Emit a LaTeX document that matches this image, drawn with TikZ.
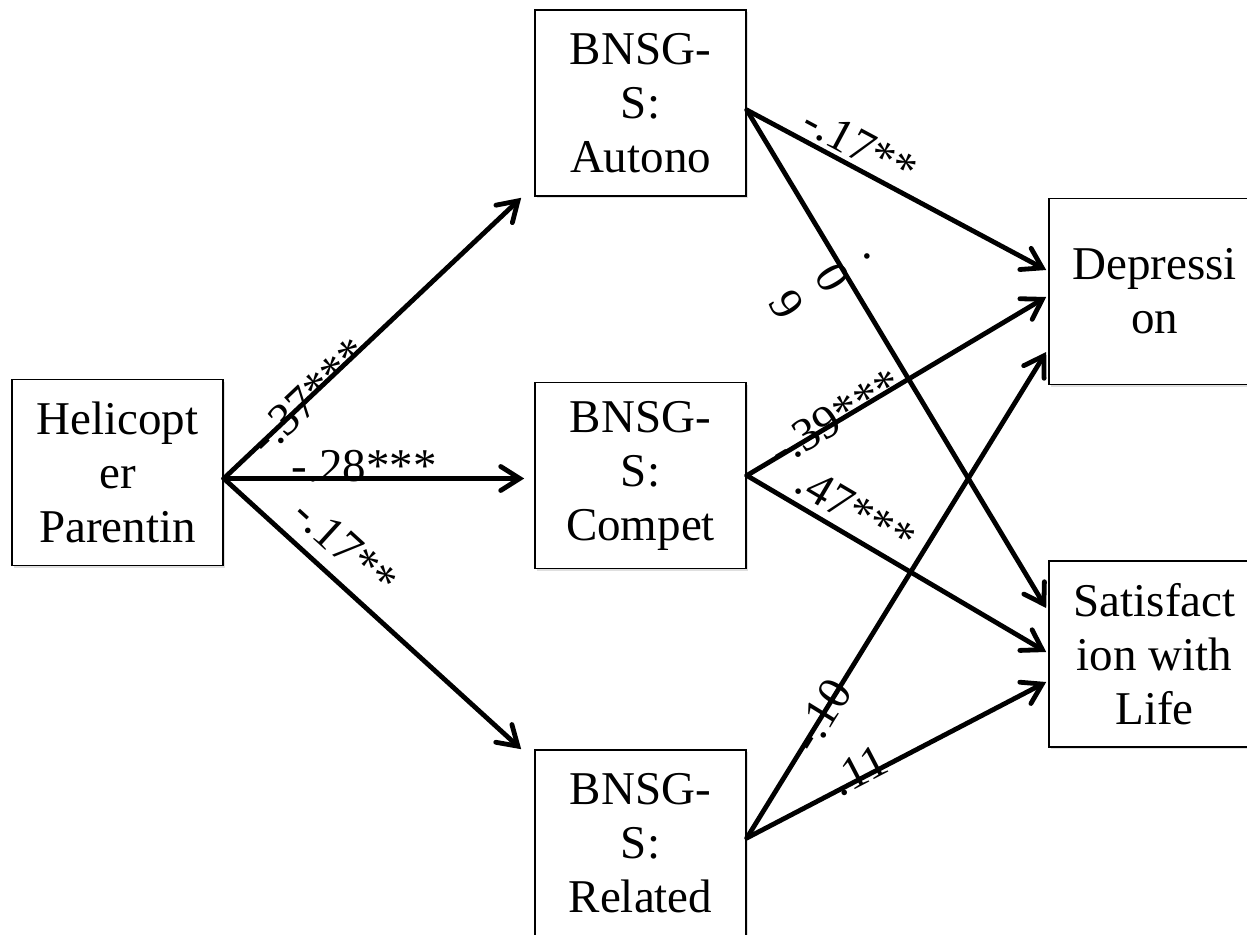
\documentclass[tikz,border=0pt]{standalone}
\usepackage{fontspec}
\setmainfont{Liberation Serif}
\usetikzlibrary{arrows.meta,calc,shadows}
\begin{document}
\begin{tikzpicture}[x=1pt,y=-1pt,
  box/.style={draw, line width=1.6pt, fill=white, minimum width=211pt, minimum height=186pt,
    inner sep=0pt, align=center, font=\fontsize{47}{54}\selectfont,
    drop shadow={shadow xshift=2pt, shadow yshift=-2pt, opacity=0.25}},
  arr/.style={line width=4.8pt, line cap=round, -{Straight Barb[length=19pt, width=24pt, line cap=round]}},
  lbl/.style={sloped, anchor=base, inner sep=0pt, font=\fontsize{47}{54}\selectfont},
]
\clip (0,0) rectangle (1247,934);
\fill[white] (0,0) rectangle (1247,934);

\node[box] (heli) at (117.5,472.5) {Helicopt\\er\\Parentin};
\node[box] (autono) at (640.5,103) {BNSG-\\S:\\Autono};
\node[box] (compet) at (640.5,475.5) {BNSG-\\S:\\Compet};
\node[box] (related) at (640.5,843) {BNSG-\\S:\\Related};
\node[box] (dep) at (1154.5,291.5) {Depressi\\on};
\node[box] (sat) at (1154.5,654) {Satisfact\\ion with\\Life};

\draw[arr] ($(heli.east)+(0,6)$) -- node[lbl,pos=0.289,yshift=-14pt]{-.37***} ($(autono.south west)+(-13,1)$);
\draw[arr] ($(heli.east)+(0,6)$) -- node[lbl,pos=0.467,yshift=-2.5pt]{-.28***} ($(compet.west)+(-10,3)$);
\draw[arr] ($(heli.east)+(0,6)$) -- node[lbl,pos=0.339,yshift=16pt]{-.17**} ($(related.north west)+(-13,0)$);
\draw[arr] ($(autono.east)+(0,7)$) -- node[lbl,pos=0.343,yshift=7pt]{-.17**} ($(dep.west)+(-2,-21.5)$);
\draw[arr] ($(autono.east)+(0,7)$) -- node[lbl,anchor=center,align=center,pos=0.323,yshift=-17pt]{\strut.\\\strut0\\\strut9} ($(sat.west)+(-2,-46)$);
\draw[arr] (compet.east) -- node[lbl,pos=0.303,yshift=-11pt]{-.39***} ($(dep.west)+(-2,5.5)$);
\draw[arr] (compet.east) -- node[lbl,pos=0.32,yshift=10pt]{.47***} ($(sat.west)+(-2,-2)$);
\draw[arr] ($(related.east)+(0,-5)$) -- node[lbl,pos=0.251,yshift=-14pt]{-.10} ($(dep.west)+(-2,60.5)$);
\draw[arr] ($(related.east)+(0,-5)$) -- node[lbl,pos=0.387,yshift=-7pt]{.11} ($(sat.west)+(-2,28)$);
\end{tikzpicture}
\end{document}
